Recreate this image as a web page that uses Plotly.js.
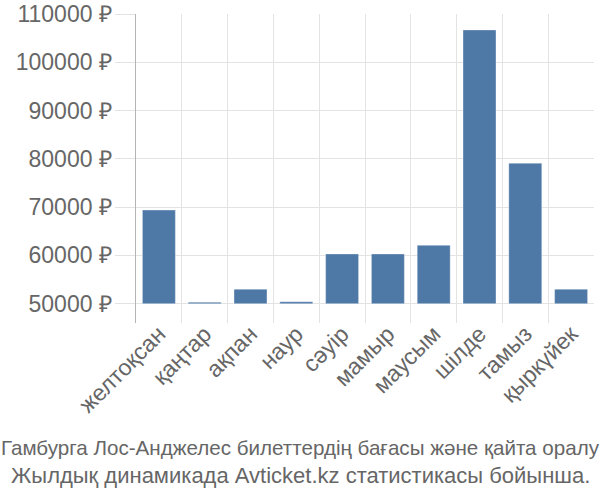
<!DOCTYPE html>
<html>
<head>
<meta charset="utf-8">
<script src="https://cdn.plot.ly/plotly-3.0.1.min.js"></script>
<style>html,body{margin:0;padding:0;background:#fff;}#chart{width:600px;height:500px;}</style>
</head>
<body>
<div id="chart"></div>
<script>
const months = ["желтоқсан", "қаңтар", "ақпан", "наур", "сәуір", "мамыр", "маусым", "шілде", "тамыз", "қыркүйек"];
const prices = [69400, 50300, 53000, 50400, 60300, 60300, 62100, 106700, 79100, 53000];
const baseValue = 50000;
const tickValues = [50000, 60000, 70000, 80000, 90000, 100000, 110000];
const tickLabels = ["50000 ₽", "60000 ₽", "70000 ₽", "80000 ₽", "90000 ₽", "100000 ₽", "110000 ₽"];
const captionLines = ["Гамбурга Лос-Анджелес билеттердің бағасы және қайта оралу", "Жылдық динамикада Avticket.kz статистикасы бойынша."];
const captionSizes = [20.6, 22];

const font = "'Liberation Sans', Arial, sans-serif";
const trace = {
  type: "bar",
  x: months,
  y: prices.map(v => v - baseValue),
  base: baseValue,
  marker: {color: "#4e79a7", line: {color: "rgba(255,255,255,0.35)", width: 1}},
  hoverinfo: "skip"
};
const layout = {
  width: 600, height: 500,
  margin: {l: 136, r: 6, t: 14, b: 177},
  paper_bgcolor: "#fff", plot_bgcolor: "#fff",
  bargap: 0.28,
  showlegend: false,
  font: {family: font, color: "#666"},
  xaxis: {
    type: "category",
    tickson: "boundaries",
    showgrid: true, gridcolor: "#e3e3e3", gridwidth: 1,
    ticks: "", tickangle: -45,
    ticklabelstandoff: -8,
    tickfont: {size: 23, color: "#666", family: font},
    showline: false, zeroline: false,
    fixedrange: true
  },
  yaxis: {
    range: [46000, 110000],
    tickvals: tickValues, ticktext: tickLabels,
    showgrid: true, gridcolor: "#e3e3e3", gridwidth: 1,
    ticks: "outside", ticklen: 20, tickcolor: "#e3e3e3",
    ticklabelstandoff: -2,
    tickfont: {size: 23, color: "#666", family: font},
    showline: true, linecolor: "#b5b5b5", linewidth: 1.5,
    zeroline: false, fixedrange: true
  },
  annotations: captionLines.map((t, i) => ({
    text: t, xref: "paper", yref: "paper",
    x: (300 - 136) / 458, y: -(447 + i * 28 - 323) / 309,
    xanchor: "center", yanchor: "middle", showarrow: false,
    font: {size: captionSizes[i], color: "#666", family: font}
  }))
};
Plotly.newPlot("chart", [trace], layout, {displayModeBar: false, staticPlot: true});
</script>
</body>
</html>
